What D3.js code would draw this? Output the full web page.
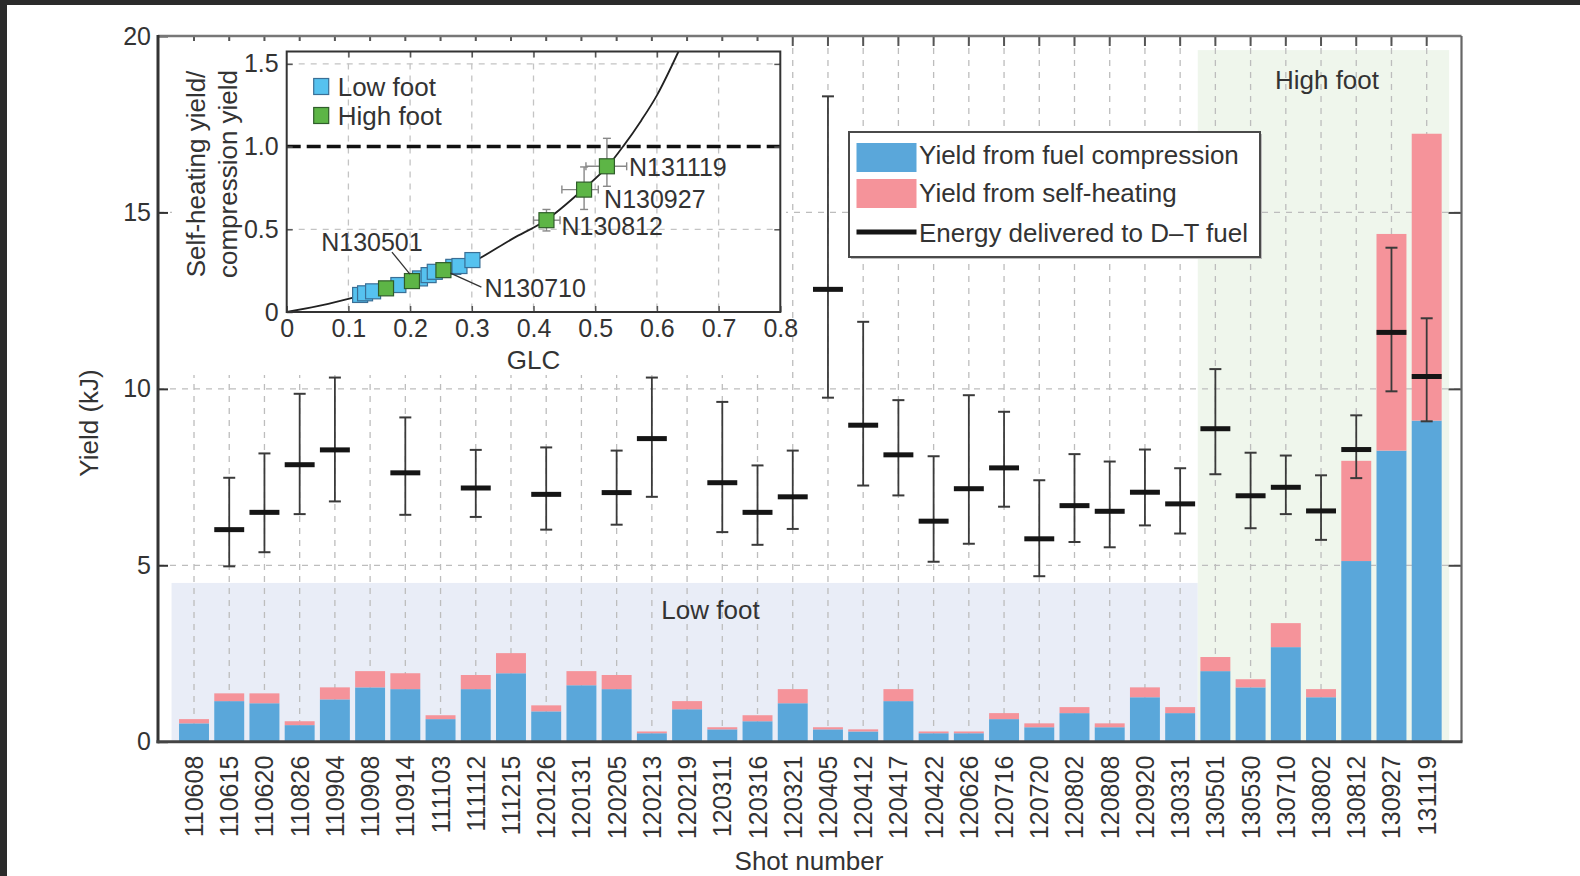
<!DOCTYPE html>
<html>
<head>
<meta charset="utf-8">
<script src="https://cdn.jsdelivr.net/npm/d3@7"></script>
<style>
  body { margin: 0; background: #fff; }
  svg { display: block; font-family: "Liberation Sans", Arial, Helvetica, sans-serif; }
</style>
</head>
<body>
<div id="chart"></div>
<script>
// ---- main chart data ----
var shots = ["110608", "110615", "110620", "110826", "110904", "110908", "110914", "111103",
  "111112", "111215", "120126", "120131", "120205", "120213", "120219", "120311", "120316",
  "120321", "120405", "120412", "120417", "120422", "120626", "120716", "120720", "120802",
  "120808", "120920", "130331", "130501", "130530", "130710", "130802", "130812", "130927", "131119"];

var compressionYield = [0.52, 1.15, 1.09, 0.47, 1.20, 1.54, 1.49, 0.64, 1.49, 1.94, 0.86, 1.60,
  1.49, 0.24, 0.92, 0.35, 0.58, 1.09, 0.35, 0.29, 1.15, 0.24, 0.24, 0.64, 0.41, 0.81,
  0.41, 1.26, 0.81, 2.00, 1.54, 2.68, 1.26, 5.12, 8.25, 9.10];

var selfHeatingYield = [0.12, 0.22, 0.28, 0.11, 0.34, 0.46, 0.45, 0.11, 0.40, 0.57, 0.17, 0.40,
  0.40, 0.05, 0.23, 0.06, 0.17, 0.40, 0.06, 0.06, 0.34, 0.05, 0.05, 0.17, 0.11, 0.17,
  0.11, 0.28, 0.17, 0.40, 0.23, 0.68, 0.23, 2.84, 6.14, 8.13];

// energy delivered to D-T fuel (null = not measured)
var energyMid = [null, 6.01, 6.50, 7.85, 8.27, null, 7.62, null, 7.19, null, 7.01, null,
  7.06, 8.59, null, 7.34, 6.50, 6.94, 12.82, 8.97, 8.13, 6.25, 7.17, 7.76, 5.75, 6.69,
  6.53, 7.07, 6.74, 8.87, 6.97, 7.21, 6.54, 8.28, 11.60, 10.35];
var energyLow = [null, 4.97, 5.37, 6.45, 6.81, null, 6.43, null, 6.37, null, 6.01, null,
  6.15, 6.94, null, 5.94, 5.58, 6.03, 9.75, 7.26, 6.98, 5.10, 5.61, 6.66, 4.69, 5.66,
  5.51, 6.13, 5.90, 7.58, 6.05, 6.45, 5.72, 7.47, 9.93, 9.08];
var energyHigh = [null, 7.48, 8.17, 9.86, 10.32, null, 9.19, null, 8.27, null, 8.34, null,
  8.25, 10.32, null, 9.63, 7.83, 8.25, 18.29, 11.90, 9.68, 8.09, 9.82, 9.35, 7.41, 8.15,
  7.94, 8.28, 7.75, 10.56, 8.19, 8.11, 7.55, 9.25, 14.00, 12.00];

var yTicks = [0, 5, 10, 15, 20];
var gridTicks = [5, 10, 15];

// campaign regions: first shot, last shot, height (kJ)
var campaigns = ["Low foot", "High foot"];
var campaignFirst = ["110608", "130501"];
var campaignLast = ["130331", "131119"];
var campaignTop = [4.5, 19.6];

// ---- inset data ----
var lowFootGLC = [0.119, 0.127, 0.140, 0.181, 0.216, 0.230, 0.240, 0.270, 0.280, 0.301];
var lowFootRatio = [0.103, 0.113, 0.125, 0.163, 0.203, 0.223, 0.243, 0.273, 0.278, 0.314];

var highFootGLC = [0.161, 0.203, 0.254, 0.421, 0.482, 0.519];
var highFootRatio = [0.143, 0.187, 0.253, 0.555, 0.740, 0.881];
var highFootName = ["", "N130501", "N130710", "N130812", "N130927", "N131119"];
var highFootGLCLow = [null, null, null, 0.400, 0.446, 0.485];
var highFootGLCHigh = [null, null, null, 0.443, 0.505, 0.551];
var highFootRatioLow = [null, null, null, 0.49, 0.62, 0.76];
var highFootRatioHigh = [null, null, null, 0.62, 0.877, 1.05];

// fitted curve
var fitGLC = [0, 0.05, 0.1, 0.2, 0.3, 0.367, 0.42, 0.48, 0.52, 0.545, 0.575, 0.6, 0.635];
var fitRatio = [0, 0.035, 0.08, 0.18, 0.30, 0.445, 0.555, 0.74, 0.88, 1.0, 1.16, 1.31, 1.575];

var insetXTicks = [0, 0.1, 0.2, 0.3, 0.4, 0.5, 0.6, 0.7, 0.8];
var insetYTicks = [0, 0.5, 1.0, 1.5];

// set the dimensions and margins of the graph
var margin = {
    top: 36,
    right: 118.5,
    bottom: 134.3,
    left: 158
  },
  width = 1580 - margin.left - margin.right,
  height = 876 - margin.top - margin.bottom;

var blue = "#5aa7da",
  pink = "#f5939a",
  textColor = "#333",
  labelSize = "26px";

var root = d3.select("#chart")
  .append("svg")
  .attr("width", 1580)
  .attr("height", 876);

// dark screenshot edges
root.append("rect").attr("x", 0).attr("y", 0).attr("width", 1580).attr("height", 5).attr("fill", "#2b2b2b");
root.append("rect").attr("x", 0).attr("y", 0).attr("width", 7).attr("height", 876).attr("fill", "#2b2b2b");

var svg = root.append("g")
  .attr("transform", "translate(" + margin.left + "," + margin.top + ")");

// scales
var xScale = d3.scaleBand()
  .domain(shots)
  .range([18.4, 1286.3])
  .paddingInner(0.15)
  .paddingOuter(0.075);
var yScale = d3.scaleLinear()
  .domain([0, 20])
  .range([height, 0]);

var bw = xScale.bandwidth();
var gap = xScale.step() * 0.075;

//Campaign shading
var regionFill = ["#e9edf7", "#eff6ec"];
campaigns.forEach(function(c, i) {
  var x0 = xScale(campaignFirst[i]) - (i == 0 ? 7.5 : gap);
  var x1 = xScale(campaignLast[i]) + bw + (i == 0 ? gap : 7.5);
  svg.append("rect")
    .attr("x", x0)
    .attr("y", yScale(campaignTop[i]))
    .attr("width", x1 - x0)
    .attr("height", yScale(0) - yScale(campaignTop[i]))
    .attr("fill", regionFill[i]);
});

//Grid lines
svg.append("g")
  .selectAll("line")
  .data(shots)
  .enter()
  .append("line")
  .attr("x1", function(d) { return xScale(d) + bw / 2; })
  .attr("x2", function(d) { return xScale(d) + bw / 2; })
  .attr("y1", 0)
  .attr("y2", height)
  .attr("stroke", "#bdbdbd")
  .attr("stroke-width", 1.3)
  .attr("stroke-dasharray", "6,6");
svg.append("g")
  .selectAll("line")
  .data(gridTicks)
  .enter()
  .append("line")
  .attr("x1", 0)
  .attr("x2", width)
  .attr("y1", function(d) { return yScale(d); })
  .attr("y2", function(d) { return yScale(d); })
  .attr("stroke", "#bdbdbd")
  .attr("stroke-width", 1.3)
  .attr("stroke-dasharray", "6,6");

//Campaign labels
svg.append("text")
  .attr("x", 710.5 - margin.left)
  .attr("y", 610 - margin.top)
  .attr("dy", "0.35em")
  .attr("text-anchor", "middle")
  .style("font-size", labelSize)
  .style("fill", textColor)
  .text(campaigns[0]);
svg.append("text")
  .attr("x", 1327 - margin.left)
  .attr("y", 80 - margin.top)
  .attr("dy", "0.35em")
  .attr("text-anchor", "middle")
  .style("font-size", labelSize)
  .style("fill", textColor)
  .text(campaigns[1]);

//Stacked bars
var table = shots.map(function(s, i) {
  return { shot: s, compression: compressionYield[i], selfHeating: selfHeatingYield[i] };
});
var stacked = d3.stack().keys(["compression", "selfHeating"])(table);
var barColors = [blue, pink];

svg.append("g")
  .selectAll("g")
  .data(stacked)
  .enter()
  .append("g")
  .attr("fill", function(d, i) { return barColors[i]; })
  .selectAll("rect")
  .data(function(d) { return d; })
  .enter()
  .append("rect")
  .attr("x", function(d) { return xScale(d.data.shot); })
  .attr("y", function(d) { return yScale(d[1]); })
  .attr("width", bw)
  .attr("height", function(d) { return yScale(d[0]) - yScale(d[1]); });

//Energy error bars
var energy = shots.map(function(s, i) {
  return { shot: s, mid: energyMid[i], low: energyLow[i], high: energyHigh[i] };
}).filter(function(d) { return d.mid != null; });

var eb = svg.append("g")
  .selectAll("g")
  .data(energy)
  .enter()
  .append("g")
  .attr("transform", function(d) { return "translate(" + (xScale(d.shot) + bw / 2) + ",0)"; });
eb.append("line")
  .attr("y1", function(d) { return yScale(d.low); })
  .attr("y2", function(d) { return yScale(d.high); })
  .attr("stroke", "#3a3a3a")
  .attr("stroke-width", 1.8);
eb.append("line")
  .attr("x1", -6).attr("x2", 6)
  .attr("y1", function(d) { return yScale(d.low); })
  .attr("y2", function(d) { return yScale(d.low); })
  .attr("stroke", "#3a3a3a")
  .attr("stroke-width", 2);
eb.append("line")
  .attr("x1", -6).attr("x2", 6)
  .attr("y1", function(d) { return yScale(d.high); })
  .attr("y2", function(d) { return yScale(d.high); })
  .attr("stroke", "#3a3a3a")
  .attr("stroke-width", 2);
eb.append("rect")
  .attr("x", -bw / 2)
  .attr("y", function(d) { return yScale(d.mid) - 2.5; })
  .attr("width", bw)
  .attr("height", 5)
  .attr("fill", "#151515");

//Main axes
svg.append("g")
  .call(d3.axisLeft(yScale).tickValues(yTicks).tickSize(-10).tickPadding(7))
  .call(function(g) { g.select(".domain").remove(); })
  .call(function(g) {
    g.selectAll("line").attr("stroke", "#333").attr("stroke-width", 2);
    g.selectAll("text").style("font-size", "25px").style("fill", textColor).attr("font-family", null);
  });
svg.append("g")
  .attr("transform", "translate(" + width + ",0)")
  .call(d3.axisRight(yScale).tickValues(gridTicks).tickSize(-13).tickFormat(""))
  .call(function(g) { g.select(".domain").remove(); })
  .call(function(g) { g.selectAll("line").attr("stroke", "#444").attr("stroke-width", 2); });
svg.append("g")
  .call(d3.axisTop(xScale).tickSize(-10).tickFormat(""))
  .call(function(g) { g.select(".domain").remove(); })
  .call(function(g) { g.selectAll("line").attr("stroke", "#555").attr("stroke-width", 2); });
svg.append("g")
  .attr("transform", "translate(0," + height + ")")
  .call(d3.axisBottom(xScale).tickSize(0))
  .call(function(g) { g.select(".domain").remove(); })
  .call(function(g) {
    g.selectAll("text")
      .attr("transform", "rotate(-90)")
      .attr("x", -14)
      .attr("y", 0)
      .attr("dy", "0.36em")
      .style("text-anchor", "end")
      .style("font-size", "25px")
      .style("fill", textColor)
      .attr("font-family", null);
  });

//Frame
svg.append("line").attr("x1", 0).attr("x2", width).attr("y1", 0).attr("y2", 0)
  .attr("stroke", "#777").attr("stroke-width", 2.5);
svg.append("line").attr("x1", width).attr("x2", width).attr("y1", 0).attr("y2", height)
  .attr("stroke", "#666").attr("stroke-width", 2.2);
svg.append("line").attr("x1", 0).attr("x2", 0).attr("y1", -1).attr("y2", height + 1.5)
  .attr("stroke", "#333").attr("stroke-width", 3);
svg.append("line").attr("x1", -1.5).attr("x2", width + 1).attr("y1", height).attr("y2", height)
  .attr("stroke", "#444").attr("stroke-width", 3);

//Axis titles
svg.append("text")
  .attr("transform", "translate(" + (89 - margin.left) + "," + (423 - margin.top) + ")rotate(-90)")
  .attr("dy", "0.35em")
  .attr("text-anchor", "middle")
  .style("font-size", labelSize)
  .style("fill", textColor)
  .text("Yield (kJ)");
svg.append("text")
  .attr("x", 809 - margin.left)
  .attr("y", 861 - margin.top)
  .attr("dy", "0.35em")
  .attr("text-anchor", "middle")
  .style("font-size", labelSize)
  .style("fill", textColor)
  .text("Shot number");

//Main legend
var legend = root.append("g").attr("transform", "translate(849,132)");
legend.append("rect")
  .attr("x", 2).attr("y", 2).attr("width", 411).attr("height", 125)
  .attr("fill", "#bbb");
legend.append("rect")
  .attr("width", 411).attr("height", 125)
  .attr("fill", "#fff").attr("stroke", "#4a4a4a").attr("stroke-width", 2);
legend.append("rect").attr("x", 7.5).attr("y", 11).attr("width", 60).attr("height", 29).attr("fill", blue);
legend.append("rect").attr("x", 7.5).attr("y", 47).attr("width", 60).attr("height", 29).attr("fill", pink);
legend.append("line").attr("x1", 7.5).attr("x2", 67.5).attr("y1", 100).attr("y2", 100)
  .attr("stroke", "#151515").attr("stroke-width", 5);
var legendText = ["Yield from fuel compression", "Yield from self-heating", "Energy delivered to D\u2013T fuel"];
legend.selectAll("text.lg")
  .data(legendText)
  .enter()
  .append("text")
  .attr("class", "lg")
  .attr("x", 70)
  .attr("y", function(d, i) { return [23, 61, 101][i]; })
  .attr("dy", "0.35em")
  .style("font-size", labelSize)
  .style("fill", textColor)
  .text(function(d) { return d; });

// ---- inset ----
var inset = { left: 286.7, top: 51.5, width: 493.6, height: 260.5 };

//white backing so the main grid does not show through
root.append("rect")
  .attr("x", 172).attr("y", 41)
  .attr("width", 614).attr("height", 334)
  .attr("fill", "#fff");

var ig = root.append("g")
  .attr("transform", "translate(" + inset.left + "," + inset.top + ")");

var ix = d3.scaleLinear().domain([0, 0.8]).range([0, inset.width]);
var iy = d3.scaleLinear().domain([0, 1.575]).range([inset.height, 0]);

ig.append("clipPath").attr("id", "insetClip")
  .append("rect").attr("width", inset.width).attr("height", inset.height);

//inset grid
ig.append("g")
  .selectAll("line")
  .data(insetXTicks.slice(1, -1))
  .enter()
  .append("line")
  .attr("x1", function(d) { return ix(d); })
  .attr("x2", function(d) { return ix(d); })
  .attr("y1", 0).attr("y2", inset.height)
  .attr("stroke", "#c4c4c4").attr("stroke-width", 1.3).attr("stroke-dasharray", "6,6");
ig.append("g")
  .selectAll("line")
  .data([0.5, 1.5])
  .enter()
  .append("line")
  .attr("x1", 0).attr("x2", inset.width)
  .attr("y1", function(d) { return iy(d); })
  .attr("y2", function(d) { return iy(d); })
  .attr("stroke", "#c4c4c4").attr("stroke-width", 1.3).attr("stroke-dasharray", "6,6");

//break-even line
ig.append("line")
  .attr("x1", 0).attr("x2", inset.width)
  .attr("y1", iy(1)).attr("y2", iy(1))
  .attr("stroke", "#111").attr("stroke-width", 3.5).attr("stroke-dasharray", "14,6");

//fit curve
var fit = fitGLC.map(function(g, i) { return [g, fitRatio[i]]; });
ig.append("path")
  .datum(fit)
  .attr("clip-path", "url(#insetClip)")
  .attr("fill", "none")
  .attr("stroke", "#222")
  .attr("stroke-width", 1.8)
  .attr("d", d3.line()
    .x(function(d) { return ix(d[0]); })
    .y(function(d) { return iy(d[1]); })
    .curve(d3.curveMonotoneX));

//inset error bars
var hf = highFootGLC.map(function(g, i) {
  return { glc: g, ratio: highFootRatio[i], name: highFootName[i],
    gl: highFootGLCLow[i], gh: highFootGLCHigh[i], rl: highFootRatioLow[i], rh: highFootRatioHigh[i] };
});
var hfErr = ig.append("g")
  .selectAll("g")
  .data(hf.filter(function(d) { return d.gl != null; }))
  .enter()
  .append("g")
  .attr("stroke", "#888")
  .attr("stroke-width", 1.4);
hfErr.append("line")
  .attr("x1", function(d) { return ix(d.gl); })
  .attr("x2", function(d) { return ix(d.gh); })
  .attr("y1", function(d) { return iy(d.ratio); })
  .attr("y2", function(d) { return iy(d.ratio); });
hfErr.append("line")
  .attr("x1", function(d) { return ix(d.glc); })
  .attr("x2", function(d) { return ix(d.glc); })
  .attr("y1", function(d) { return iy(d.rl); })
  .attr("y2", function(d) { return iy(d.rh); });
[["gl", "ratio"], ["gh", "ratio"]].forEach(function(k) {
  hfErr.append("line")
    .attr("x1", function(d) { return ix(d[k[0]]); })
    .attr("x2", function(d) { return ix(d[k[0]]); })
    .attr("y1", function(d) { return iy(d.ratio) - 4; })
    .attr("y2", function(d) { return iy(d.ratio) + 4; });
});
["rl", "rh"].forEach(function(k) {
  hfErr.append("line")
    .attr("x1", function(d) { return ix(d.glc) - 4; })
    .attr("x2", function(d) { return ix(d.glc) + 4; })
    .attr("y1", function(d) { return iy(d[k]); })
    .attr("y2", function(d) { return iy(d[k]); });
});

//inset markers
var lf = lowFootGLC.map(function(g, i) { return { glc: g, ratio: lowFootRatio[i] }; });
var sq = 15;
ig.append("g")
  .selectAll("rect")
  .data(lf)
  .enter()
  .append("rect")
  .attr("x", function(d) { return ix(d.glc) - sq / 2; })
  .attr("y", function(d) { return iy(d.ratio) - sq / 2; })
  .attr("width", sq).attr("height", sq)
  .attr("fill", "#56c2ef").attr("stroke", "#3a6f96").attr("stroke-width", 1.2);
ig.append("g")
  .selectAll("rect")
  .data(hf)
  .enter()
  .append("rect")
  .attr("x", function(d) { return ix(d.glc) - sq / 2; })
  .attr("y", function(d) { return iy(d.ratio) - sq / 2; })
  .attr("width", sq).attr("height", sq)
  .attr("fill", "#5db546").attr("stroke", "#2f5d2a").attr("stroke-width", 1.2);

//shot annotations
var labelDx = [0, -40, 41, 15, 20, 22];
var labelDy = [0, -39, 18, 6, 10, 1];
var labelAnchor = ["start", "middle", "start", "start", "start", "start"];
ig.append("g")
  .selectAll("text")
  .data(hf)
  .enter()
  .append("text")
  .attr("x", function(d, i) { return ix(d.glc) + labelDx[i]; })
  .attr("y", function(d, i) { return iy(d.ratio) + labelDy[i]; })
  .attr("dy", "0.35em")
  .attr("text-anchor", function(d, i) { return labelAnchor[i]; })
  .style("font-size", "25px")
  .style("fill", textColor)
  .text(function(d) { return d.name; });
// leader lines for the crowded points
ig.append("line")
  .attr("x1", ix(hf[1].glc) - 20).attr("y1", iy(hf[1].ratio) - 29)
  .attr("x2", ix(hf[1].glc) - 2).attr("y2", iy(hf[1].ratio) - 7)
  .attr("stroke", "#333").attr("stroke-width", 1.3);
ig.append("line")
  .attr("x1", ix(hf[2].glc) + 7).attr("y1", iy(hf[2].ratio) + 3)
  .attr("x2", ix(hf[2].glc) + 38).attr("y2", iy(hf[2].ratio) + 17)
  .attr("stroke", "#333").attr("stroke-width", 1.3);

//inset legend
var insetLegend = [["Low foot", "#56c2ef", "#3a6f96"], ["High foot", "#5db546", "#2f5d2a"]];
var il = ig.append("g")
  .selectAll("g")
  .data(insetLegend)
  .enter()
  .append("g")
  .attr("transform", function(d, i) { return "translate(27," + (35 + i * 29) + ")"; });
il.append("rect")
  .attr("x", 0).attr("y", -8).attr("width", 15).attr("height", 16)
  .attr("fill", function(d) { return d[1]; })
  .attr("stroke", function(d) { return d[2]; })
  .attr("stroke-width", 1.2);
il.append("text")
  .attr("x", 24).attr("dy", "0.35em")
  .style("font-size", labelSize)
  .style("fill", textColor)
  .text(function(d) { return d[0]; });

//inset axes
ig.append("g")
  .attr("transform", "translate(0," + inset.height + ")")
  .call(d3.axisBottom(ix).tickValues(insetXTicks).tickSize(-6).tickPadding(7)
    .tickFormat(function(d) { return d === 0 ? "0" : d3.format(".1f")(d); }))
  .call(function(g) { g.select(".domain").remove(); })
  .call(function(g) {
    g.selectAll("line").attr("stroke", "#555").attr("stroke-width", 1.5);
    g.selectAll("text").style("font-size", "25px").style("fill", textColor).attr("font-family", null);
  });
ig.append("g")
  .call(d3.axisLeft(iy).tickValues(insetYTicks).tickSize(-6).tickPadding(8)
    .tickFormat(function(d) { return d === 0 ? "0" : d3.format(".1f")(d); }))
  .call(function(g) { g.select(".domain").remove(); })
  .call(function(g) {
    g.selectAll("line").attr("stroke", "#555").attr("stroke-width", 1.5);
    g.selectAll("text").style("font-size", "25px").style("fill", textColor).attr("font-family", null);
  });
ig.append("g")
  .call(d3.axisTop(ix).tickValues(insetXTicks.slice(1, -1)).tickSize(-6).tickFormat(""))
  .call(function(g) { g.select(".domain").remove(); })
  .call(function(g) { g.selectAll("line").attr("stroke", "#555").attr("stroke-width", 1.5); });
ig.append("g")
  .attr("transform", "translate(" + inset.width + ",0)")
  .call(d3.axisRight(iy).tickValues(insetYTicks.slice(1)).tickSize(-6).tickFormat(""))
  .call(function(g) { g.select(".domain").remove(); })
  .call(function(g) { g.selectAll("line").attr("stroke", "#555").attr("stroke-width", 1.5); });

ig.append("rect")
  .attr("width", inset.width).attr("height", inset.height)
  .attr("fill", "none").attr("stroke", "#333").attr("stroke-width", 2);

//inset titles
ig.append("text")
  .attr("x", ix(0.4))
  .attr("y", 360 - inset.top)
  .attr("dy", "0.35em")
  .attr("text-anchor", "middle")
  .style("font-size", labelSize)
  .style("fill", textColor)
  .text("GLC");
["Self-heating yield/", "compression yield"].forEach(function(t, i) {
  ig.append("text")
    .attr("transform", "translate(" + (196 + i * 32 - inset.left) + "," + (174 - inset.top) + ")rotate(-90)")
    .attr("dy", "0.35em")
    .attr("text-anchor", "middle")
    .style("font-size", labelSize)
    .style("fill", textColor)
    .text(t);
});
</script>
</body>
</html>
